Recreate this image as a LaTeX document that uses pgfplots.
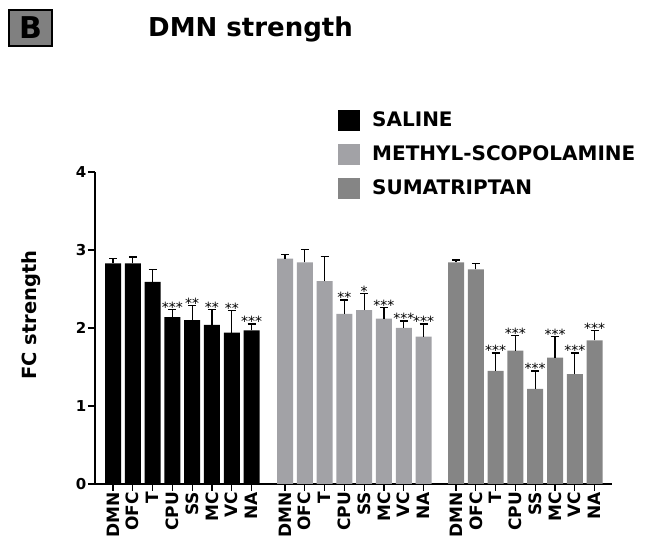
\documentclass[border=0pt]{standalone}
\usepackage{pgfplots}
\pgfplotsset{compat=1.18}
\usepackage{pgfplotstable}
\usepackage{fontspec}
\setmainfont{DejaVu Sans}
\definecolor{methyl}{RGB}{162,162,166}
\definecolor{suma}{RGB}{133,133,133}
\definecolor{boxgray}{RGB}{128,128,128}

\pgfplotstableread{
x y e
0 2.83 0.06
1 2.83 0.08
2 2.59 0.16
3 2.14 0.10
4 2.10 0.19
5 2.04 0.20
6 1.94 0.28
7 1.97 0.08
}\saline
\pgfplotstableread{
x y e
8.69 2.89 0.05
9.69 2.84 0.17
10.69 2.60 0.32
11.69 2.18 0.18
12.69 2.23 0.21
13.69 2.12 0.14
14.69 2.00 0.09
15.69 1.89 0.16
}\methyl
\pgfplotstableread{
x y e
17.33 2.84 0.03
18.33 2.75 0.08
19.33 1.45 0.23
20.33 1.71 0.19
21.33 1.22 0.23
22.33 1.62 0.27
23.33 1.41 0.27
24.33 1.84 0.13
}\suma
\pgfplotstableread{
x t s
3 2.24 ***
4 2.29 **
5 2.24 **
6 2.22 **
7 2.05 ***
11.69 2.36 **
12.69 2.44 *
13.69 2.26 ***
14.69 2.09 ***
15.69 2.05 ***
19.33 1.68 ***
20.33 1.90 ***
21.33 1.45 ***
22.33 1.89 ***
23.33 1.68 ***
24.33 1.97 ***
}\stars

\begin{document}
\begin{tikzpicture}
\path[use as bounding box] (0,0) rectangle (648pt,537pt);
% panel letter and title
\node[draw=black, line width=2.5pt, fill=boxgray, minimum width=43pt, minimum height=36pt, inner sep=0pt,
      font=\bfseries\fontsize{30}{30}\selectfont] at (30.5pt,509pt) {B};
\node[anchor=base west, inner sep=0pt, font=\bfseries\fontsize{26}{26}\selectfont] at (148pt,500pt) {DMN strength};
\begin{axis}[
  at={(95pt,53pt)}, anchor=south west,
  scale only axis, width=517pt, height=312pt,
  xmin=-0.91, xmax=25.21, ymin=0, ymax=4,
  axis x line*=bottom, axis y line*=left,
  axis line style={line width=1.2pt, black},
  tick align=outside, major tick length=7pt,
  tick style={line width=1.2pt, black},
  ytick={0,1,2,3,4},
  xtick={0,1,2,3,4,5,6,7,8.69,9.69,10.69,11.69,12.69,13.69,14.69,15.69,17.33,18.33,19.33,20.33,21.33,22.33,23.33,24.33},
  xticklabels={DMN,OFC,T,CPU,SS,MC,VC,NA,DMN,OFC,T,CPU,SS,MC,VC,NA,DMN,OFC,T,CPU,SS,MC,VC,NA},
  xticklabel style={rotate=90, anchor=east, inner sep=1pt, font=\bfseries\fontsize{17}{17}\selectfont},
  yticklabel style={font=\bfseries\fontsize{15}{15}\selectfont, inner sep=1.5pt},
  /pgf/number format/assume math mode=true,
  ylabel={FC strength},
  ylabel style={at={(axis description cs:-0.124,0.542)}, anchor=center, font=\bfseries\fontsize{19.5}{19.5}\selectfont},
  clip=false,
  legend cell align=left,
  legend style={at={(axis description cs:0.47,1.2)}, anchor=north west, draw=none, fill=none,
    inner sep=0pt, row sep=13pt, font=\bfseries\fontsize{20}{20}\selectfont,
    /tikz/every odd column/.append style={column sep=10pt}},
  error bars/y dir=plus, error bars/y explicit,
  error bars/error bar style={line width=1.3pt, black},
  error bars/error mark options={line width=1.3pt, black, mark size=4pt, rotate=90},
]
\addplot[ybar, bar width=16pt, bar shift=0pt, fill=black, draw=none,
  legend image code/.code={\fill[black] (0pt,-10.5pt) rectangle (22pt,10.5pt);}]
  table[x=x, y=y, y error=e] {\saline};
\addlegendentry{SALINE}
\addplot[ybar, bar width=16pt, bar shift=0pt, fill=methyl, draw=none,
  legend image code/.code={\fill[methyl] (0pt,-10.5pt) rectangle (22pt,10.5pt);}]
  table[x=x, y=y, y error=e] {\methyl};
\addlegendentry{METHYL-SCOPOLAMINE}
\addplot[ybar, bar width=16pt, bar shift=0pt, fill=suma, draw=none,
  legend image code/.code={\fill[suma] (0pt,-10.5pt) rectangle (22pt,10.5pt);}]
  table[x=x, y=y, y error=e] {\suma};
\addlegendentry{SUMATRIPTAN}
\addplot[draw=none, forget plot, point meta=explicit symbolic, nodes near coords,
  nodes near coords style={anchor=south, inner sep=0pt, yshift=-3pt, font=\fontsize{14}{14}\selectfont}]
  table[x=x, y=t, meta=s] {\stars};
\end{axis}
\end{tikzpicture}
\end{document}
